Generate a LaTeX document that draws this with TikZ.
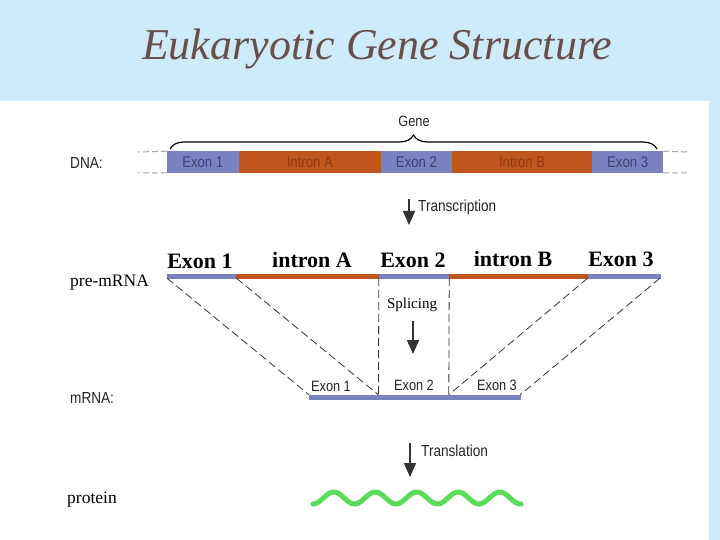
\documentclass[tikz,border=0pt]{standalone}
\usepackage{fontspec}
\setmainfont{Liberation Serif}
\newfontfamily\condsans[FakeStretch=0.85]{Liberation Sans}
\usetikzlibrary{decorations.pathreplacing,arrows.meta}
\definecolor{bgblue}{HTML}{CDEBFB}
\definecolor{exonblue}{HTML}{7B82C2}
\definecolor{intronor}{HTML}{C0561E}
\definecolor{titlebrown}{HTML}{6A4E48}
\definecolor{exontext}{HTML}{3C4270}
\definecolor{introntext}{HTML}{8E3A12}
\definecolor{protgreen}{HTML}{5ADC5A}
\definecolor{arrowgray}{HTML}{333333}
\tikzset{
  dseg/.style={inner sep=0pt, minimum height=21pt, anchor=west, line width=0.6pt, font=\condsans\fontsize{15.5}{17}\selectfont},
  dexon/.style={dseg, fill=exonblue, draw=exonblue, text=exontext},
  dintron/.style={dseg, fill=intronor, draw=intronor, text=introntext},
  pseg/.style={inner sep=0pt, minimum height=4pt, anchor=west, line width=0.4pt},
  pexon/.style={pseg, fill=exonblue, draw=exonblue},
  pintron/.style={pseg, fill=intronor, draw=intronor},
  plabel/.style={font=\bfseries\fontsize{22}{25}\selectfont, inner sep=0pt, anchor=base},
  mlabel/.style={font=\condsans\fontsize{15}{17}\selectfont, text=black!85, inner sep=0pt},
  rowlabel/.style={font=\condsans\fontsize{16}{18}\selectfont, text=black!85, anchor=west, inner sep=0pt},
  serlabel/.style={font=\fontsize{17.5}{19}\selectfont, anchor=west, inner sep=0pt},
  ext/.style={gray!70, line width=1pt, dash pattern=on 6pt off 3pt},
  splice/.style={black!80, line width=0.8pt, dash pattern=on 8pt off 4pt},
  steparrow/.style={arrowgray, line width=1.6pt, -{Triangle[length=14pt,width=12pt]}},
  steplabel/.style={font=\condsans\fontsize{16}{18}\selectfont, text=black!85, anchor=west, inner sep=0pt}
}
\begin{document}
\begin{tikzpicture}[x=1pt,y=-1pt]
\fill[bgblue] (0,0) rectangle (720,540);
\fill[white] (0,101) rectangle (709,540);
\useasboundingbox (0,0) rectangle (720,540);
% title
\node[font=\fontsize{44}{50}\selectfont\itshape, text=titlebrown] (title) at (377,49) {Eukaryotic Gene Structure};
% DNA
\node[rowlabel] (dnalab) at (70,163) {DNA:};
\node[dexon, minimum width=71pt] (d1) at (167,162) {Exon 1};
\node[dintron, minimum width=142pt] (dA) at (d1.east) {Intron A};
\node[dexon, minimum width=70pt] (d2) at (dA.east) {Exon 2};
\node[dintron, minimum width=140pt] (dB) at (d2.east) {Intron B};
\node[dexon, minimum width=70pt] (d3) at (dB.east) {Exon 3};
\coordinate (lt) at (138,152);
\coordinate (lb) at (138,173);
\coordinate (rt) at (690,152);
\coordinate (rb) at (690,173);
\draw[ext] (d1.north west) -- (lt);
\draw[ext] (d1.south west) -- (lb);
\draw[ext] (d3.north east) -- (rt);
\draw[ext] (d3.south east) -- (rb);
\draw[black, line width=1.2pt, decorate, decoration={brace, amplitude=14pt}] (170,149) -- (657,149);
\node[font=\condsans\fontsize{15}{17}\selectfont, text=black!85] (gene) at (414,121) {Gene};
% transcription
\coordinate (t0) at (409,199);
\coordinate (t1) at (409,225);
\draw[steparrow] (t0) -- (t1);
\node[steplabel] (tlab) at (418,207) {Transcription};
% pre-mRNA
\node[serlabel] (prelab) at (70,283) {pre-mRNA};
\node[pexon, minimum width=69pt] (p1) at (167,276) {};
\node[pintron, minimum width=142pt] (pA) at (p1.east) {};
\node[pexon, minimum width=70pt] (p2) at (pA.east) {};
\node[pintron, minimum width=138pt] (pB) at (p2.east) {};
\node[pexon, minimum width=72pt] (p3) at (pB.east) {};
\node[plabel] (l1) at (200,268) {Exon 1};
\node[plabel] (lA) at (312,267) {intron A};
\node[plabel] (l2) at (413,267) {Exon 2};
\node[plabel] (lB) at (513,266) {intron B};
\node[plabel] (l3) at (621,266) {Exon 3};
% splicing
\node[font=\fontsize{15}{17}\selectfont] (splab) at (412,305) {Splicing};
\coordinate (s0) at (413,321);
\coordinate (s1) at (413,354);
\draw[steparrow] (s0) -- (s1);
% mRNA
\node[rowlabel] (mlab) at (70,398) {mRNA:};
\node[pexon, minimum width=69pt] (m1) at (309,397) {};
\node[pexon, minimum width=70pt] (m2) at (m1.east) {};
\node[pexon, minimum width=71pt] (m3) at (m2.east) {};
\node[mlabel] (ml1) at (331,386) {Exon 1};
\node[mlabel] (ml2) at (414,385) {Exon 2};
\node[mlabel] (ml3) at (497,385) {Exon 3};
\draw[splice] (p1.south west) -- (m1.north west);
\draw[splice] (pA.south west) -- (m1.north east);
\draw[splice] (p2.south west) -- (m2.north west);
\draw[splice] (p2.south east) -- (m2.north east);
\draw[splice] (pB.south east) -- (m3.north west);
\draw[splice] (p3.south east) -- (m3.north east);
% translation
\coordinate (r0) at (410,443);
\coordinate (r1) at (410,477);
\draw[steparrow] (r0) -- (r1);
\node[steplabel] (rlab) at (421,451) {Translation};
% protein
\node[serlabel] (protlab) at (67,500) {protein};
\draw[protgreen, line width=5pt, line cap=round] plot[domain=0:208, samples=150] ({313+\x}, {498+6*cos(8.6747*\x)});
\end{tikzpicture}
\end{document}
